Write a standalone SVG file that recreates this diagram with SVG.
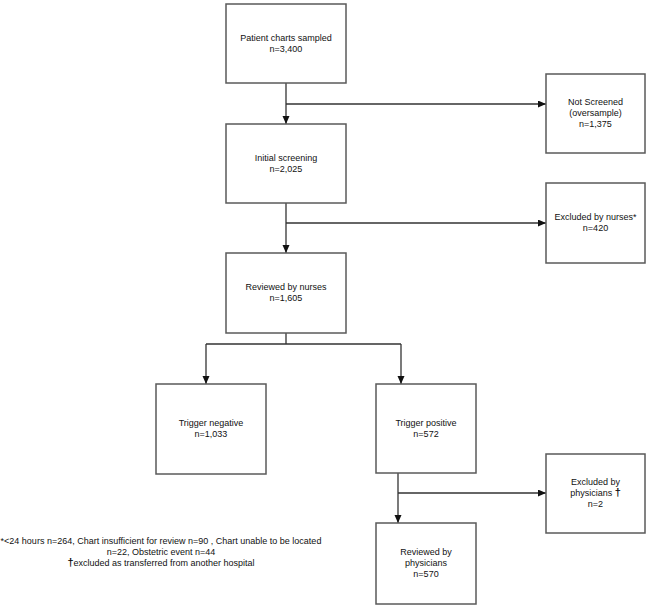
<svg xmlns="http://www.w3.org/2000/svg" width="648" height="608" viewBox="0 0 648 608">
<style>
.box{fill:#fff;stroke:#5a5a5a;stroke-width:1.5}
.t{font-family:"Liberation Sans",Arial,sans-serif;font-size:9px;fill:#111;text-anchor:middle}
.ln{fill:none;stroke:#333;stroke-width:1.3}
.arr{marker-end:url(#ah)}
</style>
<defs>
<marker id="ah" markerUnits="userSpaceOnUse" markerWidth="9" markerHeight="8" refX="8" refY="3.5" orient="auto">
<path d="M0,0 L8,3.5 L0,7 z" fill="#111"/>
</marker>
</defs>
<rect width="648" height="608" fill="#fff"/>
<g id="connectors">
<path class="ln arr" d="M286,83 V124"/>
<path class="ln arr" d="M286,104 H546"/>
<path class="ln arr" d="M286,203 V253"/>
<path class="ln arr" d="M286,223 H546"/>
<path class="ln" d="M286,333 V344 M206,344 H401"/>
<path class="ln arr" d="M206,344 V384"/>
<path class="ln arr" d="M401,344 V384"/>
<path class="ln arr" d="M398,473 V523"/>
<path class="ln arr" d="M398,493 H546"/>
</g>
<g id="n1"><rect class="box" x="226" y="4" width="120" height="79"/><text class="t" x="286" y="41">Patient charts sampled</text><text class="t" x="286" y="51.5">n=3,400</text></g>
<g id="n2"><rect class="box" x="546" y="74" width="99" height="79"/><text class="t" x="595.5" y="105">Not Screened</text><text class="t" x="595.5" y="116">(oversample)</text><text class="t" x="595.5" y="126.5">n=1,375</text></g>
<g id="n3"><rect class="box" x="226" y="124" width="120" height="79"/><text class="t" x="286" y="161">Initial screening</text><text class="t" x="286" y="171.5">n=2,025</text></g>
<g id="n4"><rect class="box" x="546" y="183" width="99" height="80"/><text class="t" x="595.5" y="220">Excluded by nurses*</text><text class="t" x="595.5" y="230.5">n=420</text></g>
<g id="n5"><rect class="box" x="226" y="253" width="120" height="80"/><text class="t" x="286" y="290">Reviewed by nurses</text><text class="t" x="286" y="300.5">n=1,605</text></g>
<g id="n6"><rect class="box" x="156" y="384" width="110" height="90"/><text class="t" x="211" y="426">Trigger negative</text><text class="t" x="211" y="436.5">n=1,033</text></g>
<g id="n7"><rect class="box" x="376" y="384" width="100" height="89"/><text class="t" x="426" y="426">Trigger positive</text><text class="t" x="426" y="436.5">n=572</text></g>
<g id="n8"><rect class="box" x="546" y="454" width="99" height="79"/><text class="t" x="595.5" y="485">Excluded by</text><text class="t" x="595.5" y="496">physicians <tspan font-weight="bold" font-size="11px">†</tspan></text><text class="t" x="595.5" y="506.5">n=2</text></g>
<g id="n9"><rect class="box" x="376" y="523" width="100" height="81"/><text class="t" x="426" y="555">Reviewed by</text><text class="t" x="426" y="566">physicians</text><text class="t" x="426" y="577">n=570</text></g>
<g id="footnote">
<text class="t" x="161" y="544">*&lt;24 hours n=264, Chart insufficient for review n=90 , Chart unable to be located</text>
<text class="t" x="161" y="555">n=22, Obstetric event n=44</text>
<text class="t" x="161" y="566"><tspan font-weight="bold" font-size="11px">†</tspan>excluded as transferred from another hospital</text>
</g>
</svg>
